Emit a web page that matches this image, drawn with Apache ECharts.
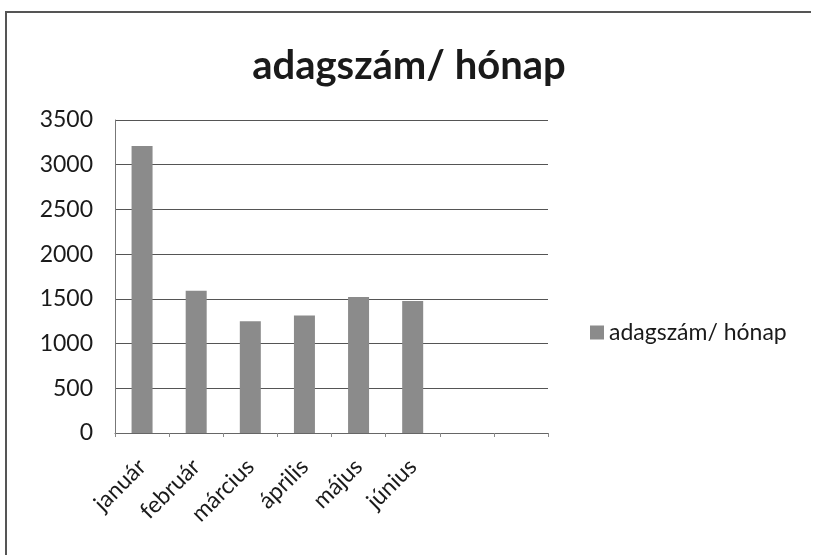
<!DOCTYPE html>
<html>
<head>
<meta charset="utf-8">
<script src="https://cdn.jsdelivr.net/npm/echarts@6/dist/echarts.min.js"></script>
<style>
  html, body { margin: 0; padding: 0; background: #fff; }
  #chart { position: absolute; left: 5px; top: 11px; width: 806px; height: 544px;
           border-left: 2px solid #555; border-top: 2px solid #555; box-sizing: border-box; }
</style>
</head>
<body>
<div id="chart"></div>
<script>
// honapok (8 hely, az utolso ketto ures)
const categories = ['január', 'február', 'március', 'április', 'május', 'június', '', ''];
const values = [3210, 1590, 1250, 1315, 1520, 1475, null, null];
const seriesName = 'adagszám/ hónap';
const yTicks = { min: 0, max: 3500, interval: 500 };

const myChart = echarts.init(document.getElementById('chart'));
const font = 'Lato, "Open Sans", sans-serif';

const option = {
  animation: false,
  title: {
    text: 'adagszám/ hónap',
    left: 'center',
    top: 28,
    textStyle: { fontFamily: font, fontSize: 40, fontWeight: 'bold', color: '#1a1a1a' }
  },
  legend: {
    left: 578,
    top: 303,
    itemWidth: 14,
    itemHeight: 14,
    itemGap: 4,
    icon: 'rect',
    textStyle: { fontFamily: font, fontSize: 23, color: '#1a1a1a' },
    data: [seriesName]
  },
  grid: { left: 108, top: 107, width: 433, height: 313 },
  xAxis: {
    type: 'category',
    data: categories,
    boundaryGap: true,
    axisLine: { show: true, lineStyle: { color: '#666', width: 1 } },
    axisTick: { show: true, alignWithLabel: false, length: 4, lineStyle: { color: '#888' } },
    axisLabel: {
      interval: 0,
      rotate: 45,
      margin: 30,
      fontFamily: font,
      fontSize: 23,
      color: '#1a1a1a'
    }
  },
  yAxis: {
    type: 'value',
    min: yTicks.min,
    max: yTicks.max,
    interval: yTicks.interval,
    axisLine: { show: true, lineStyle: { color: '#777', width: 1 } },
    axisTick: { show: false },
    axisLabel: {
      fontFamily: font, fontSize: 23, color: '#1a1a1a', margin: 22,
      formatter: function (v) { return String(v); }
    },
    splitLine: { show: true, lineStyle: { color: '#555', width: 1 } }
  },
  series: [{
    name: seriesName,
    type: 'bar',
    data: values,
    barWidth: 21,
    itemStyle: { color: '#8b8b8b' }
  }]
};

myChart.setOption(option);
</script>
</body>
</html>
